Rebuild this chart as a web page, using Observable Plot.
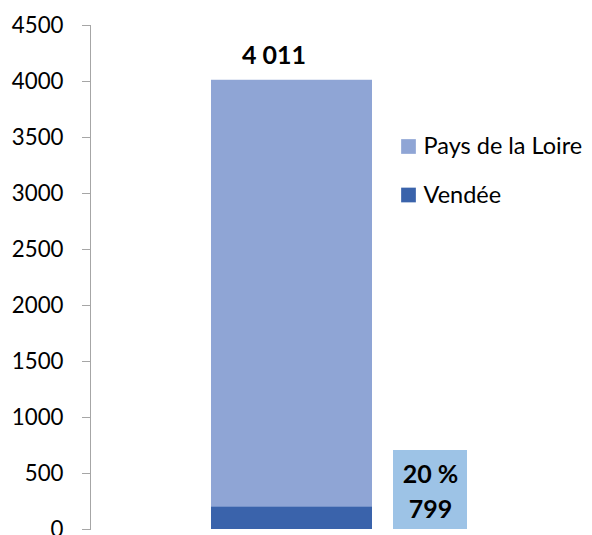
<!DOCTYPE html>
<html>
<head>
<meta charset="utf-8">
<script src="https://cdn.jsdelivr.net/npm/d3@7"></script>
<script src="https://cdn.jsdelivr.net/npm/@observablehq/plot@0.6"></script>
<style>
  html, body { margin: 0; padding: 0; background: #fff; }
  .chart g[aria-label="y-axis tick label"] { fill: #000; }
</style>
</head>
<body>
<div id="chart"></div>
<script>
// Data
const category = "Total";
const series = ["Pays de la Loire", "Vendée"];
const barValues = [4011, 199];           // drawn heights
const colors = ["#8FA5D5", "#3A63AB"];
const yTicks = [0, 500, 1000, 1500, 2000, 2500, 3000, 3500, 4000, 4500];
const totalLabel = "4 011";
const shareLabel = "20 %";
const countLabel = "799";

const bars = series.map((s, i) => ({cat: category, series: s, value: barValues[i]}));

const font = "Lato, 'Open Sans', sans-serif";

const legendMarks = series.flatMap((s, i) => [
  Plot.dot([s], {frameAnchor: "top-left", symbol: "square", r: 8.3, fill: colors[i],
    dx: 318, dy: 121 + i * 48.5}),
  Plot.text([s], {frameAnchor: "top-left", text: d => d, textAnchor: "start", lineAnchor: "middle",
    fill: "#000", fontSize: 23.5, dx: 333, dy: 120.5 + i * 49})
]);

const chart = Plot.plot({
  width: 592,
  height: 535,
  marginLeft: 90,
  marginRight: 99,
  marginTop: 25,
  marginBottom: 6,
  className: "chart",
  style: {fontFamily: font, fontSize: "22.3px", color: "#a6a6a6", background: "#fff", overflow: "visible"},
  x: {type: "band", domain: [category], padding: 0.4286, axis: null},
  y: {domain: [0, 4500], ticks: yTicks, tickSize: 8, tickPadding: 19, line: true, label: null, tickFormat: d => String(d)},
  color: {domain: series, range: colors},
  marks: [
    Plot.barY(bars, {x: "cat", y1: 0, y2: "value", fill: "series"}),
    // total label
    Plot.text([bars[0]], {x: "cat", y: "value", text: () => totalLabel, dx: -18, dy: -24.5,
      lineAnchor: "middle", fill: "#000", fontWeight: "bold", fontSize: 25}),
    // data label box for Vendée
    Plot.barY([bars[1]], {x: "cat", y1: () => 0, y2: () => 0, fill: "#9DC3E6",
      insetLeft: 182, insetRight: -95, insetTop: -79}),
    Plot.text([bars[1]], {x: "cat", y: () => 0, text: () => shareLabel, dx: 138.5, dy: -55,
      lineAnchor: "middle", fill: "#000", fontWeight: "bold", fontSize: 25}),
    Plot.text([bars[1]], {x: "cat", y: () => 0, text: () => countLabel, dx: 138.5, dy: -20,
      lineAnchor: "middle", fill: "#000", fontWeight: "bold", fontSize: 25}),
    ...legendMarks
  ]
});
document.getElementById("chart").appendChild(chart);
</script>
</body>
</html>
